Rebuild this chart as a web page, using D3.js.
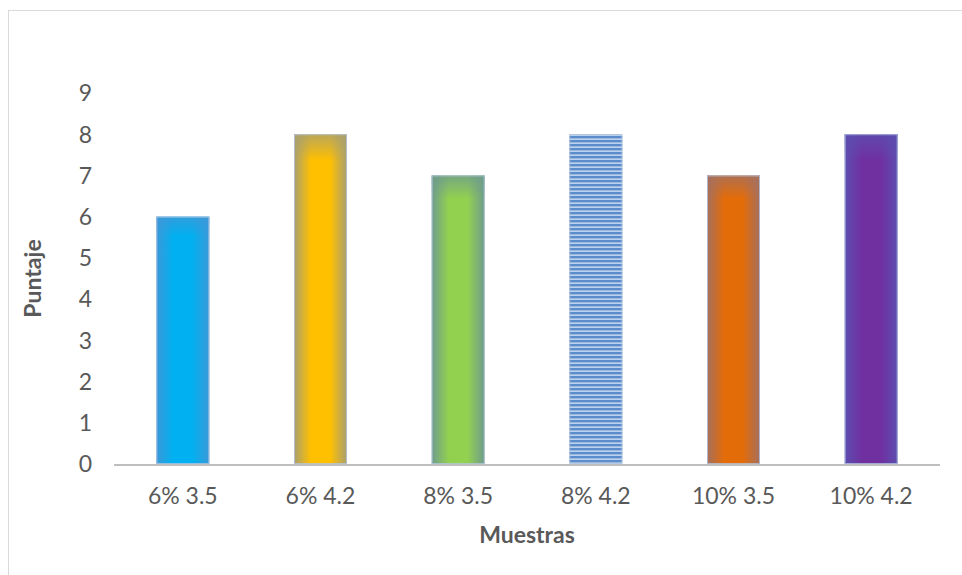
<!DOCTYPE html>
<html>
<head>
<meta charset="utf-8">
<script src="https://cdn.jsdelivr.net/npm/d3@7"></script>
<style>
  html, body { margin: 0; padding: 0; background: #fff; }
  svg { display: block; font-family: Lato, "Open Sans", "Liberation Sans", sans-serif; }
</style>
</head>
<body>
<svg id="chart" width="962" height="575"></svg>
<script>
// Sample scores
const categories = ["6% 3.5", "6% 4.2", "8% 3.5", "8% 4.2", "10% 3.5", "10% 4.2"];
const scores = [6, 8, 7, 8, 7, 8];
const yTicks = [0, 1, 2, 3, 4, 5, 6, 7, 8, 9];
const barColors = ["#00B0F0", "#FFC000", "#92D050", "#5B8CCC", "#E36C09", "#7030A0"];
const edgeColors = ["#3C98D8", "#A8A070", "#6E9C8C", "#5B8CCC", "#A47060", "#5C4EB0"];

const svg = d3.select("#chart");
const margin = { left: 114, right: 22, top: 93, bottom: 111 };
const W = 962, H = 575;

// Frame
svg.append("rect")
  .attr("x", 8.5).attr("y", 10.5)
  .attr("width", 970).attr("height", 600)
  .attr("fill", "#fff").attr("stroke", "#d9d9d9").attr("stroke-width", 1);

const x = d3.scaleBand()
  .domain(categories)
  .range([margin.left, W - margin.right])
  .paddingInner(0.615).paddingOuter(0.3075);

const y = d3.scaleLinear()
  .domain([0, 9])
  .range([H - margin.bottom, margin.top]);

const defs = svg.append("defs");

// Horizontal shading for each bar, plus a shared top fade
categories.forEach((c, i) => {
  const g = defs.append("linearGradient")
    .attr("id", "hg" + i).attr("x1", 0).attr("x2", 1).attr("y1", 0).attr("y2", 0);
  g.append("stop").attr("offset", "0%").attr("stop-color", edgeColors[i]);
  g.append("stop").attr("offset", "32%").attr("stop-color", barColors[i]);
  g.append("stop").attr("offset", "68%").attr("stop-color", barColors[i]);
  g.append("stop").attr("offset", "100%").attr("stop-color", edgeColors[i]);

  const v = defs.append("linearGradient")
    .attr("id", "vg" + i).attr("x1", 0).attr("x2", 0).attr("y1", 0).attr("y2", 1);
  v.append("stop").attr("offset", "0%").attr("stop-color", edgeColors[i]).attr("stop-opacity", 0.8);
  v.append("stop").attr("offset", "8%").attr("stop-color", edgeColors[i]).attr("stop-opacity", 0);
  v.append("stop").attr("offset", "100%").attr("stop-color", edgeColors[i]).attr("stop-opacity", 0);
});

// Horizontal stripe pattern
const pat = defs.append("pattern")
  .attr("id", "stripes").attr("patternUnits", "userSpaceOnUse")
  .attr("width", 8).attr("height", 4);
pat.append("rect").attr("width", 8).attr("height", 4).attr("fill", "#DCE8F6");
pat.append("rect").attr("y", 0).attr("width", 8).attr("height", 2).attr("fill", "#5B8CCC");
pat.append("rect").attr("y", 2).attr("width", 8).attr("height", 0.7).attr("fill", "#9DBCE2");

// Y tick labels
svg.append("g").selectAll("text")
  .data(yTicks).join("text")
  .attr("x", 92).attr("y", d => y(d))
  .attr("dy", "0.36em")
  .attr("text-anchor", "end")
  .attr("font-size", 23)
  .attr("fill", "#595959")
  .text(d => d);

// Bars
const bars = svg.append("g");
categories.forEach((c, i) => {
  const bx = x(c), bw = x.bandwidth(), by = y(scores[i]), bh = y(0) - y(scores[i]);
  if (i === 3) {
    bars.append("rect").attr("x", bx).attr("y", by).attr("width", bw).attr("height", bh)
      .attr("fill", "url(#stripes)");
    bars.append("rect").attr("x", bx).attr("y", by).attr("width", bw).attr("height", bh)
      .attr("fill", "url(#hg" + i + ")").attr("opacity", 0.25);
  } else {
    bars.append("rect").attr("x", bx).attr("y", by).attr("width", bw).attr("height", bh)
      .attr("fill", "url(#hg" + i + ")");
    bars.append("rect").attr("x", bx).attr("y", by).attr("width", bw).attr("height", bh)
      .attr("fill", "url(#vg" + i + ")");
  }
  bars.append("rect").attr("x", bx + 0.5).attr("y", by + 0.5).attr("width", bw - 1).attr("height", bh - 1)
    .attr("fill", "none").attr("stroke", "#B4C7E0").attr("stroke-width", 1).attr("stroke-opacity", 0.8);
});

// Baseline
svg.append("line")
  .attr("x1", margin.left).attr("x2", W - margin.right)
  .attr("y1", y(0) + 1).attr("y2", y(0) + 1)
  .attr("stroke", "#BFBFBF").attr("stroke-width", 2);

// X labels
svg.append("g").selectAll("text")
  .data(categories).join("text")
  .attr("x", d => x(d) + x.bandwidth() / 2)
  .attr("y", 496)
  .attr("dy", "0.36em")
  .attr("text-anchor", "middle")
  .attr("font-size", 23)
  .attr("fill", "#595959")
  .text(d => d);

// Axis titles
svg.append("text")
  .attr("x", (margin.left + W - margin.right) / 2).attr("y", 535)
  .attr("dy", "0.36em").attr("text-anchor", "middle")
  .attr("font-size", 23).attr("font-weight", "bold").attr("fill", "#595959")
  .text("Muestras");

svg.append("text")
  .attr("transform", "translate(33," + ((margin.top + H - margin.bottom) / 2) + ") rotate(-90)")
  .attr("dy", "0.36em").attr("text-anchor", "middle")
  .attr("font-size", 23).attr("font-weight", "bold").attr("fill", "#595959")
  .text("Puntaje");
</script>
</body>
</html>
